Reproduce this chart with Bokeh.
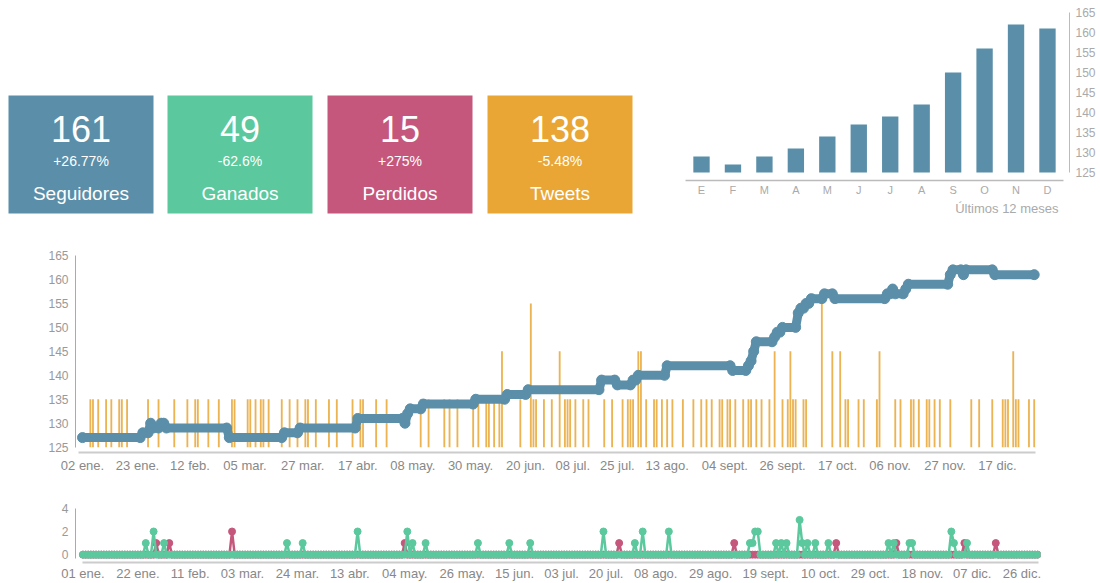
import numpy as np
from bokeh.plotting import figure
from bokeh.models import Range1d, FixedTicker, Title
from bokeh.layouts import column, row
from bokeh.embed import file_html
from bokeh.resources import INLINE
from bokeh.core.properties import value

FONT = "Liberation Sans"
BLUE = "#5b8fa9"
GREEN = "#5bc89d"
PINK = "#c5577d"
ORANGE = "#e9a634"

# ---------------- data ----------------
kpi_values = ["161", "49", "15", "138"]
kpi_changes = ["+26.77%", "-62.6%", "+275%", "-5.48%"]
kpi_labels = ["Seguidores", "Ganados", "Perdidos", "Tweets"]
kpi_colors = [BLUE, GREEN, PINK, ORANGE]

months = ["E", "F", "M", "A", "M", "J", "J", "A", "S", "O", "N", "D"]
monthly_followers = [129, 127, 129, 131, 134, 137, 139, 142, 150, 156, 162, 161]

# follower line vertices (day of year, followers)
follower_days = [2, 24, 25, 27, 28, 29, 31, 32, 33, 34, 57, 58, 78, 79, 84, 85, 106, 107, 124,
                 125, 126, 127, 131, 132, 151, 152, 163, 164, 171, 172, 199, 200, 205, 206, 211,
                 212, 213, 214, 224, 225, 249, 250, 255, 256, 257, 258, 259, 265, 266, 267, 268,
                 269, 274, 275, 276, 277, 278, 279, 280, 284, 285, 288, 289, 308, 309, 310, 311,
                 312, 315, 316, 317, 332, 333, 334, 337, 338, 339, 349, 350, 365]
follower_values = [127, 127, 128, 128, 130, 129, 129, 130, 130, 129, 129, 127, 127, 128, 128, 129, 129, 131, 131,
                   130, 132, 133, 133, 134, 134, 135, 135, 136, 136, 137, 137, 139, 139, 138, 138,
                   139, 139, 140, 140, 142, 142, 141, 141, 142, 143, 145, 147, 147, 148, 149, 149,
                   150, 150, 153, 154, 154, 155, 155, 156, 156, 157, 157, 156, 156, 157, 157, 158,
                   157, 157, 158, 159, 159, 161, 162, 162, 161, 162, 162, 161, 161]

tweet_days = [5, 6, 8, 11, 13, 16, 17, 19, 27, 31, 37, 42, 45, 46, 50, 54, 59, 60, 65, 66, 68, 70, 71,
              73, 78, 81, 84, 87, 88, 91, 96, 99, 105, 108, 109, 114, 118, 131, 134, 140, 142, 145,
              151, 153, 156, 157, 159, 161, 162, 169, 173, 174, 175, 178, 181, 184, 186, 187, 188,
              190, 193, 195, 201, 204, 208, 210, 211, 212, 214, 215, 217, 220, 221, 223, 225, 227,
              231, 235, 238, 240, 242, 245, 246, 248, 249, 251, 254, 256, 257, 259, 261, 264, 266,
              269, 271, 272, 273, 274, 277, 278, 284, 288, 291, 293, 294, 298, 300, 305, 306, 312,
              314, 318, 319, 321, 324, 325, 327, 329, 333, 341, 344, 349, 353, 354, 355, 357, 358,
              359, 363, 365]
tweet_counts = [1, 1, 1, 1, 1, 1, 1, 1, 1, 1, 1, 1, 1, 1, 1, 1, 1, 1, 1, 1, 1, 1, 1,
                1, 1, 1, 1, 1, 1, 1, 1, 1, 1, 1, 1, 1, 1, 1, 1, 1, 1, 1,
                1, 1, 1, 1, 1, 1, 2, 1, 3, 1, 1, 1, 1, 2, 1, 1, 1,
                1, 1, 1, 1, 1, 1, 1, 1, 1, 2, 2, 1, 1, 1, 1, 1, 1,
                1, 1, 1, 1, 1, 1, 1, 1, 1, 1, 1, 1, 1, 1, 1, 1, 2,
                1, 1, 2, 1, 1, 1, 1, 3, 2, 2, 1, 1, 1, 1, 1, 2, 1,
                1, 1, 1, 1, 1, 1, 1, 1, 1, 1, 1, 1, 1, 1, 1, 2, 1,
                1, 1, 1]

main_tick_days = [2, 23, 43, 64, 86, 107, 128, 150, 171, 189, 206, 225, 247, 269, 290, 310, 331, 351]
main_tick_labels = ["02 ene.", "23 ene.", "12 feb.", "05 mar.", "27 mar.", "17 abr.", "08 may.",
                    "30 may.", "20 jun.", "08 jul.", "25 jul.", "13 ago.", "04 sept.", "26 sept.",
                    "17 oct.", "06 nov.", "27 nov.", "17 dic."]
main_y_ticks = [125, 130, 135, 140, 145, 150, 155, 160, 165]

gained_days = [25, 28, 32, 79, 85, 106, 125, 127, 132, 152, 164, 172, 200, 212, 215, 225, 256, 257,
               258, 259, 266, 268, 270, 275, 276, 278, 281, 286, 309, 311, 317, 318, 333, 334, 339]
gained_counts = [1, 2, 1, 1, 1, 2, 2, 1, 1, 1, 1, 1, 2, 1, 2, 2, 1, 1,
                 2, 2, 1, 1, 1, 3, 1, 1, 1, 1, 1, 1, 1, 1, 2, 1, 1]
lost_days = [29, 34, 58, 124, 206, 250, 289, 312, 338, 350]
lost_counts = [1, 1, 2, 1, 1, 1, 1, 1, 1, 1]
daily_first_day = 1
daily_last_day = 366

daily_tick_days = [1, 22, 42, 62, 83, 103, 124, 146, 166, 184, 201, 220, 241, 262, 283, 302, 322, 341, 360]
daily_tick_labels = ["01 ene.", "22 ene.", "11 feb.", "03 mar.", "24 mar.", "13 abr.", "04 may.",
                     "26 may.", "15 jun.", "03 jul.", "20 jul.", "08 ago.", "29 ago.", "19 sept.",
                     "10 oct.", "29 oct.", "18 nov.", "07 dic.", "26 dic."]
daily_y_ticks = [0, 2, 4]


def style_axis(ax, size, color, line_color, line_width, standoff):
    ax.major_tick_line_color = None
    ax.minor_tick_line_color = None
    ax.major_tick_out = 0
    ax.major_tick_in = 0
    ax.minor_tick_out = 0
    ax.major_label_text_font = FONT
    ax.major_label_text_font_size = size
    ax.major_label_text_color = color
    ax.axis_line_color = line_color
    ax.axis_line_width = line_width
    ax.major_label_standoff = standoff


TOP_H = 228

# ---------------- KPI boxes ----------------
k = figure(width=668, height=TOP_H, x_range=Range1d(0, 668), y_range=Range1d(TOP_H, 0),
           x_axis_type=None, y_axis_type=None, output_backend="svg", toolbar_location=None,
           min_border=0)
k.grid.visible = False
k.outline_line_color = None
box_w = 145
box_left = [8, 167, 327, 487]
box_right = [b + box_w for b in box_left]
box_cx = [b + box_w / 2 for b in box_left]
k.quad(left=box_left, right=box_right, top=95, bottom=213, fill_color=kpi_colors, line_color=None)
k.text(x=box_cx, y=[128] * 4, text=kpi_values, text_align="center", text_baseline="middle",
       text_font=value(FONT), text_font_size="36px", text_color="white")
k.text(x=box_cx, y=[160] * 4, text=kpi_changes, text_align="center", text_baseline="middle",
       text_font=value(FONT), text_font_size="14px", text_color="white")
k.text(x=box_cx, y=[193] * 4, text=kpi_labels, text_align="center", text_baseline="middle",
       text_font=value(FONT), text_font_size="19px", text_color="white")

# ---------------- monthly bars ----------------
month_x = list(range(len(months)))
bar = figure(width=432, height=TOP_H, x_range=Range1d(-0.509, 11.70), y_range=Range1d(123, 167.5),
             y_axis_location="right", output_backend="svg", toolbar_location=None,
             min_border_left=17, min_border_right=31, min_border_top=2, min_border_bottom=48)
bar.grid.visible = False
bar.outline_line_color = None
bar.vbar(x=month_x, width=0.52, bottom=125, top=monthly_followers, fill_color=BLUE, line_color=None)
bar.xaxis.ticker = FixedTicker(ticks=month_x)
bar.xaxis.major_label_overrides = {i: m for i, m in zip(month_x, months)}
bar.xaxis.bounds = (-0.509, 11.51)
style_axis(bar.xaxis[0], "11px", "#aaaaaa", "#bbbbbb", 1.5, 3)
bar.yaxis.ticker = FixedTicker(ticks=main_y_ticks)
bar.yaxis.bounds = (125, 165)
style_axis(bar.yaxis[0], "12px", "#aaaaaa", "#bbbbbb", 1, 6)
bar.add_layout(Title(text="Últimos 12 meses", align="right", text_font=FONT, text_font_size="13px",
                     text_color="#aaaaaa", text_font_style="normal", offset=11, standoff=0), "below")

# ---------------- followers + tweets ----------------
main = figure(width=1100, height=252, x_range=Range1d(-0.67, 367.4), y_range=Range1d(123.89, 166.46),
              output_backend="svg", toolbar_location=None,
              min_border_left=75, min_border_right=60, min_border_top=20, min_border_bottom=28)
main.grid.visible = False
main.outline_line_color = None
main.extra_y_ranges = {"tw": Range1d((123.89 - 125) / 10, (166.46 - 125) / 10)}
main.vbar(x=tweet_days, width=0.7, bottom=0, top=tweet_counts, y_range_name="tw",
          fill_color=ORANGE, fill_alpha=0.85, line_color=None)
main.line(follower_days, follower_values, line_width=9, color=BLUE, line_join="round", line_cap="round")
main.scatter(follower_days, follower_values, size=10, color=BLUE)
main.xaxis.ticker = FixedTicker(ticks=main_tick_days)
main.xaxis.major_label_overrides = {d: l for d, l in zip(main_tick_days, main_tick_labels)}
main.xaxis.bounds = (0.5, 365.5)
style_axis(main.xaxis[0], "13px", "#888888", "#cccccc", 2, 5)
main.yaxis.ticker = FixedTicker(ticks=main_y_ticks)
main.yaxis.bounds = (125, 165)
style_axis(main.yaxis[0], "12px", "#999999", "#aaaaaa", 1, 7)

# ---------------- daily gained / lost ----------------
days = np.arange(daily_first_day, daily_last_day + 1)
gained = np.zeros(len(days))
gained[np.array(gained_days) - daily_first_day] = gained_counts
lost = np.zeros(len(days))
lost[np.array(lost_days) - daily_first_day] = lost_counts

bot = figure(width=1100, height=103, x_range=Range1d(-1.86, 367.1), y_range=Range1d(-0.68, 4.68),
             output_backend="svg", toolbar_location=None,
             min_border_left=75, min_border_right=32, min_border_top=20, min_border_bottom=20)
bot.grid.visible = False
bot.outline_line_color = None
bot.line(days, lost, line_width=2.5, color=PINK)
bot.scatter(days, lost, size=7, color=PINK)
bot.line(days, gained, line_width=2.5, color=GREEN)
bot.scatter(days, gained, size=7, color=GREEN)
bot.xaxis.ticker = FixedTicker(ticks=daily_tick_days)
bot.xaxis.major_label_overrides = {d: l for d, l in zip(daily_tick_days, daily_tick_labels)}
bot.xaxis.bounds = (1, 366.5)
style_axis(bot.xaxis[0], "13px", "#888888", "#cccccc", 2, 3)
bot.yaxis.ticker = FixedTicker(ticks=daily_y_ticks)
bot.yaxis.bounds = (-0.3, 4)
style_axis(bot.yaxis[0], "12px", "#999999", "#aaaaaa", 1, 7)

layout = column(row(column(k), column(bar)), main, bot)
open("out.html", "w").write(file_html(layout, INLINE))
